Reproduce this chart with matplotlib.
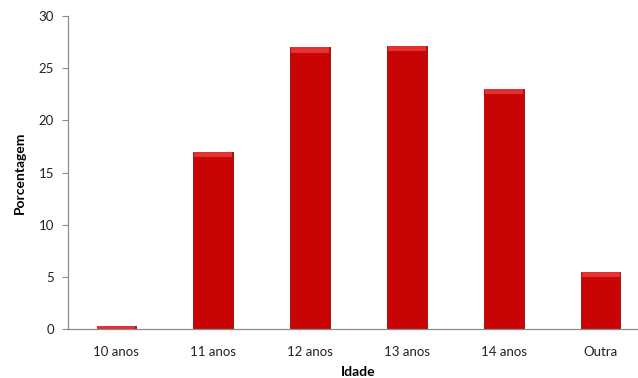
import matplotlib.pyplot as plt

# dados
idades = ['10 anos', '11 anos', '12 anos', '13 anos', '14 anos', 'Outra']
porcentagem = [0.3, 17.0, 27.0, 27.1, 23.0, 5.5]

plt.rcParams['font.family'] = ['Lato', 'DejaVu Sans']

fig = plt.figure(figsize=(6.38, 3.78), dpi=100)
# eixo vai um pouco além da borda direita, como no original
ax = fig.add_axes([68 / 638, 1 - 329 / 378, (649 - 68) / 638, (329 - 16) / 378])

x = list(range(len(idades)))
largura = 0.41

# barra principal
ax.bar(x, porcentagem, width=largura, color='#c80404',
       edgecolor='#9a0000', linewidth=0.6, zorder=2)
# efeito de chanfro no topo
topo = [min(0.5, v) for v in porcentagem]
ax.bar(x, topo, bottom=[v - t for v, t in zip(porcentagem, topo)],
       width=largura * 0.96, color='#e43234', linewidth=0, zorder=3)

ax.set_xlim(-0.5, 5.5)
ax.set_ylim(0, 30)
ax.set_yticks(range(0, 31, 5))
ax.set_xticks(x)
ax.set_xticklabels(idades)

for lado in ['top', 'right']:
    ax.spines[lado].set_visible(False)
for lado in ['left', 'bottom']:
    ax.spines[lado].set_color('#8c8c8c')
    ax.spines[lado].set_linewidth(0.9)

ax.tick_params(axis='y', length=4, color='#8c8c8c', labelsize=9.5,
               labelcolor='#222222', pad=6)
ax.tick_params(axis='x', length=0, labelsize=9.5, labelcolor='#222222', pad=12)

ax.set_ylabel('Porcentagem', fontweight='bold', fontsize=10, labelpad=9)
ax.set_xlabel('Idade', fontweight='bold', fontsize=10, labelpad=6)

fig.savefig('out.png', dpi=100)
